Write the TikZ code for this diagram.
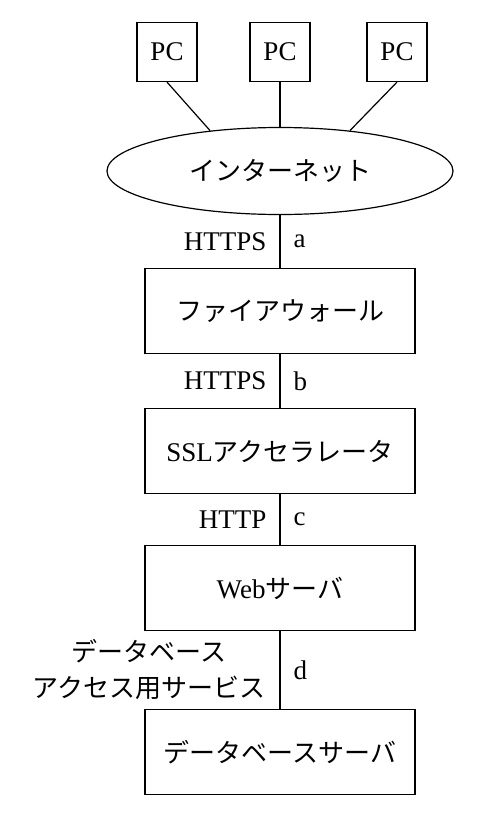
\documentclass[tikz,border=0pt]{standalone}
\usepackage{fontspec}
\setmainfont{Liberation Serif}
\newfontfamily\jpfont{Noto Sans CJK JP}
\usetikzlibrary{shapes.geometric}
\newcommand{\jp}[1]{{\jpfont\fontsize{26}{30}\selectfont #1}}

\tikzset{
  box/.style={draw,minimum width=270pt,minimum height=85pt,inner sep=0pt,font=\fontsize{27}{30}\selectfont},
  pcbox/.style={draw,minimum width=60pt,minimum height=59pt,inner sep=0pt,font=\fontsize{27}{30}\selectfont},
  lab/.style={inner sep=0pt,font=\fontsize{27}{30}\selectfont},
  jlab/.style={inner sep=0pt,align=center,font=\jpfont\fontsize{26}{36}\selectfont}
}

\begin{document}
\begin{tikzpicture}[x=1pt,y=-1pt,line width=1.2pt]
\useasboundingbox (0,0) rectangle (480,820);
% clients
\node[pcbox] (pc1) at (167,52) {PC};
\node[pcbox] (pc2) at (280,52) {PC};
\node[pcbox] (pc3) at (397,52) {PC};
\node[draw,ellipse,minimum width=346pt,minimum height=87pt,inner sep=0pt] (inet) at (280,171) {\jp{インターネット}};
\draw (pc1.south)--(inet.150);
\draw (pc2.south)--(inet.north);
\draw (pc3.south)--(inet.30);
% servers
\node[box] (fw) at (280,311) {\jp{ファイアウォール}};
\node[box] (ssl) at (280,451) {SSL\jp{アクセラレータ}};
\node[box] (web) at (280,588) {Web\jp{サーバ}};
\node[box] (db) at (280,752) {\jp{データベースサーバ}};
\draw (inet.south)--(fw.north) node[lab,left=13pt,midway] (pa) {HTTPS} node[lab,right=13pt,midway] (la) {a};
\draw (fw.south)--(ssl.north) node[lab,left=13pt,midway] (pb) {HTTPS} node[lab,right=13pt,midway] (lb) {b};
\draw (ssl.south)--(web.north) node[lab,left=13pt,midway] (pc) {HTTP} node[lab,right=13pt,midway] (lc) {c};
\draw (web.south)--(db.north) node[jlab,left=14pt,midway] (pd) {データベース\\アクセス用サービス} node[lab,right=13pt,midway] (ld) {d};
\end{tikzpicture}
\end{document}
